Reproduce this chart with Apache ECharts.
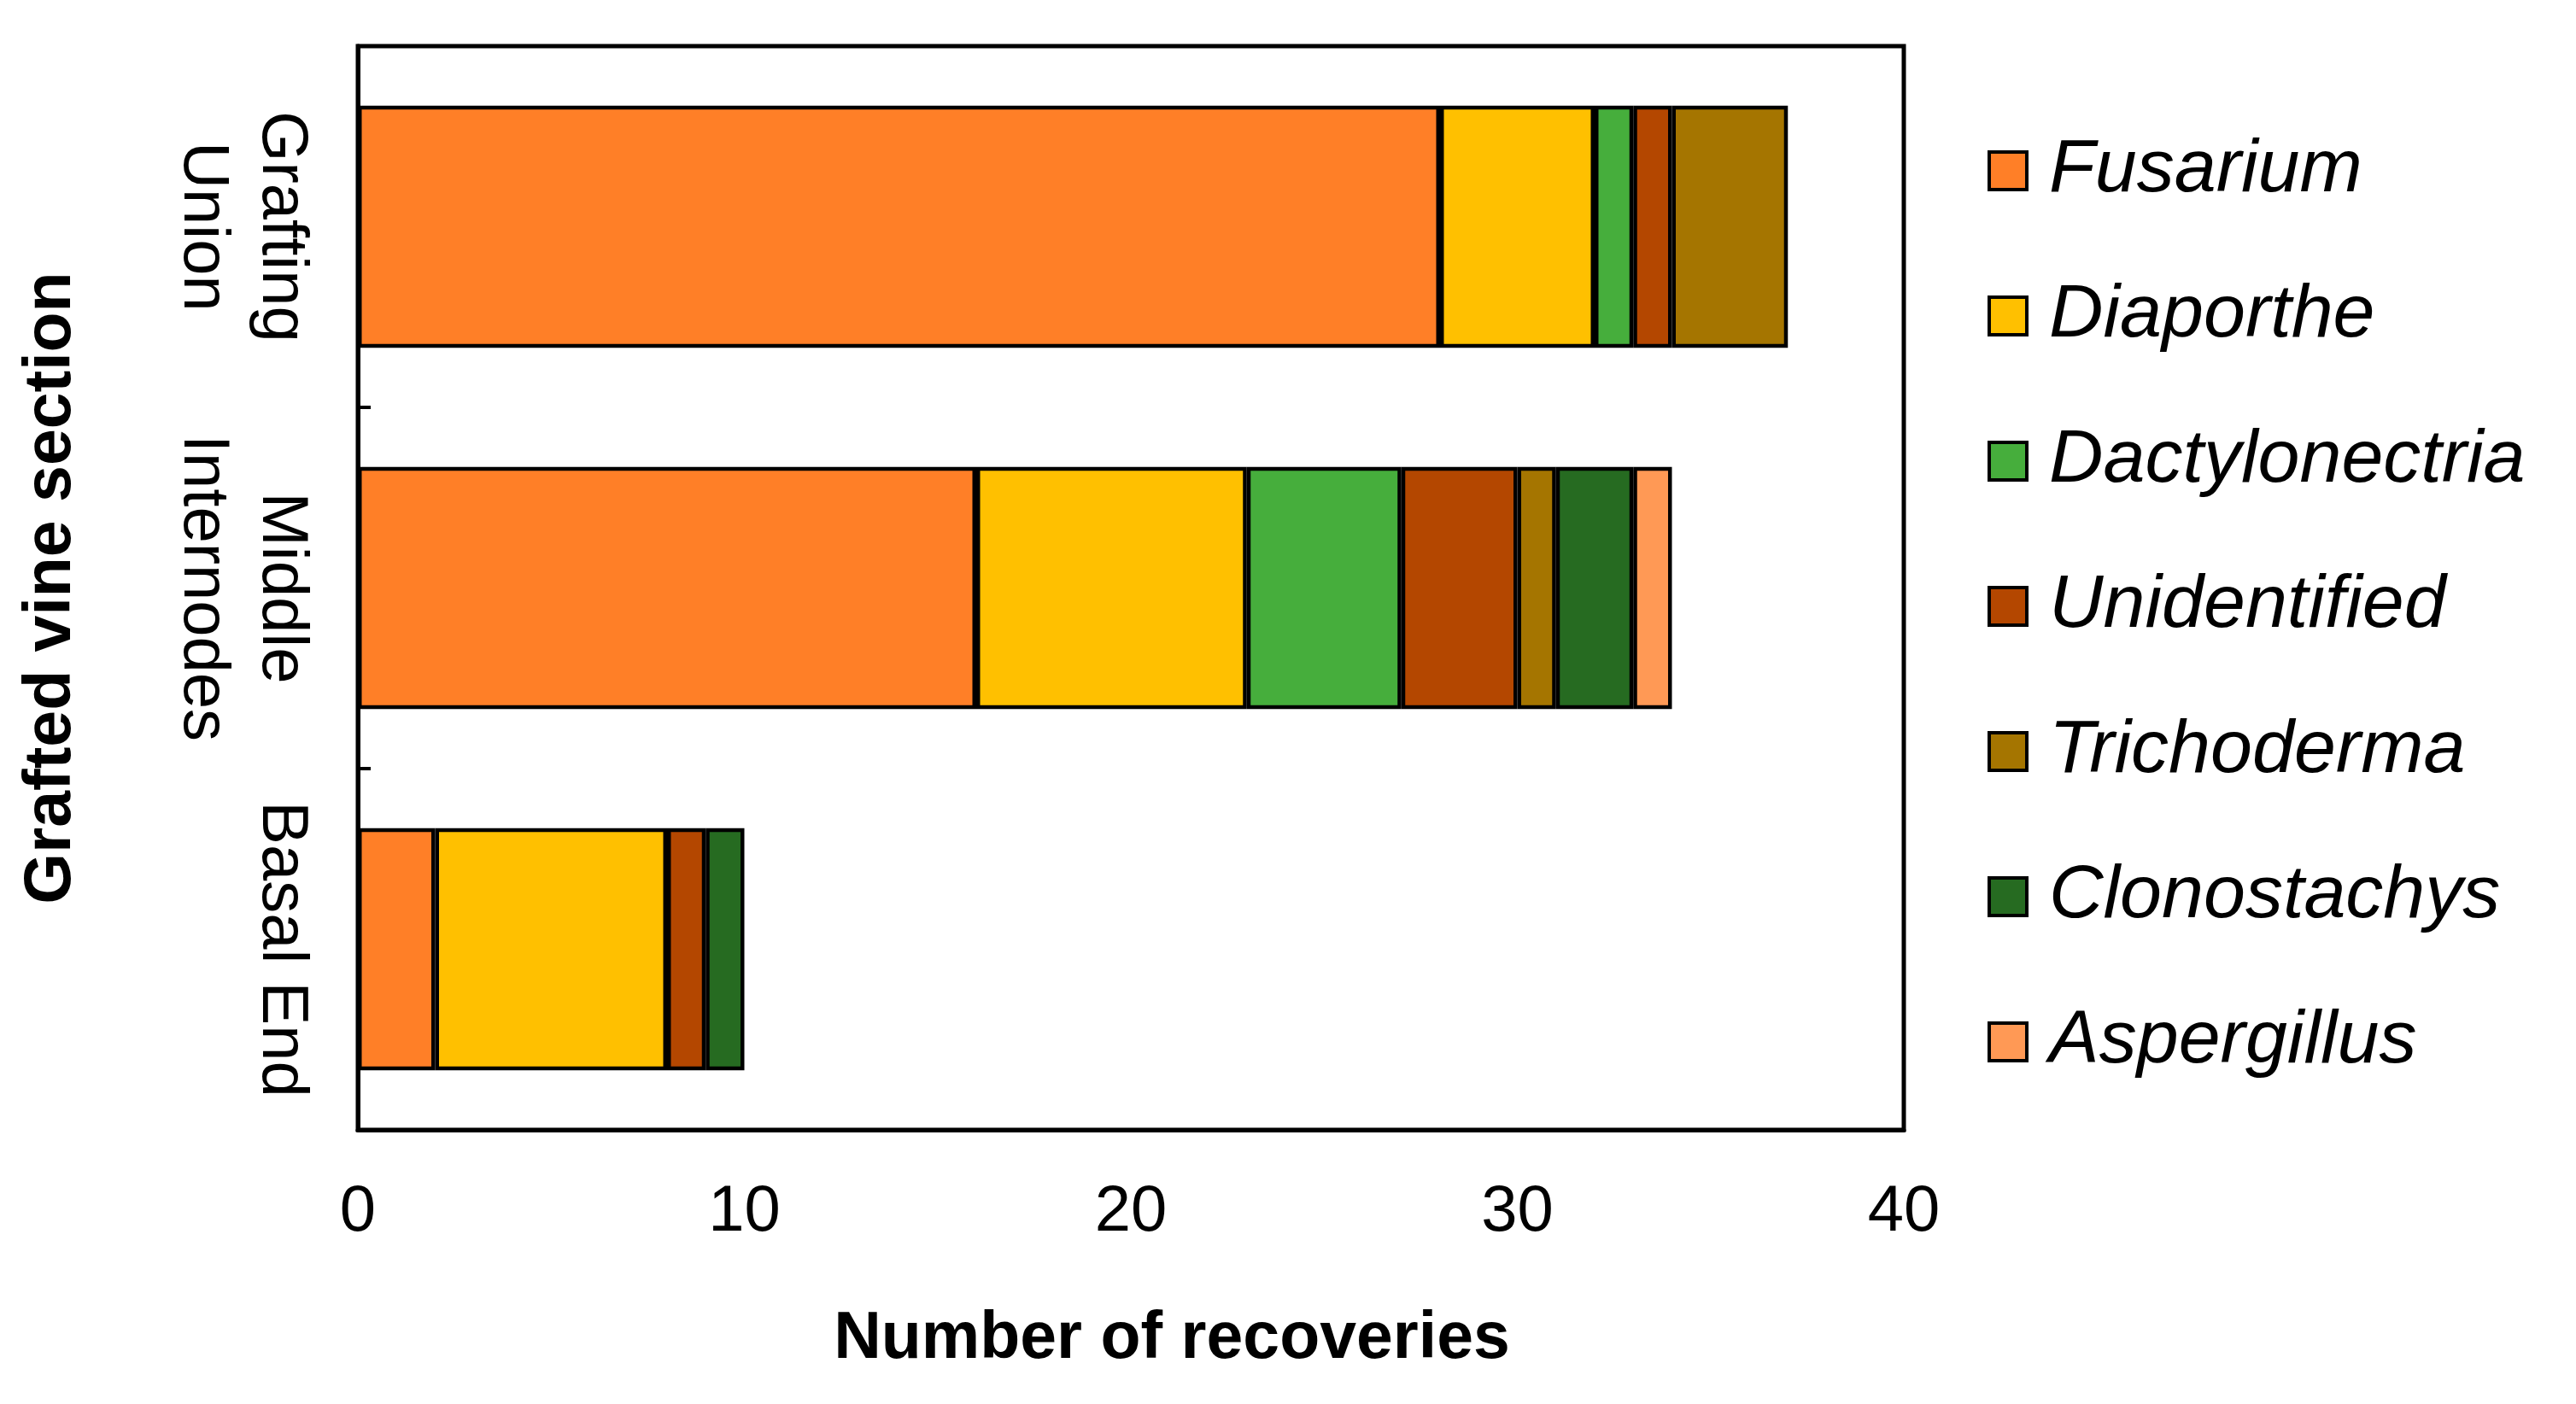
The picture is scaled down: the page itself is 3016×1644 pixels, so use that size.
<!DOCTYPE html>
<html>
<head>
<meta charset="utf-8">
<script src="https://cdn.jsdelivr.net/npm/echarts@6/dist/echarts.min.js"></script>
<style>
html,body{margin:0;padding:0;background:#fff;}
#chart{width:3016px;height:1644px;}
</style>
</head>
<body>
<div id="chart"></div>
<script>
var categories = ['Grafting\nUnion', 'Middle\nInternodes', 'Basal End'];
var seriesNames = ['Fusarium', 'Diaporthe', 'Dactylonectria', 'Unidentified', 'Trichoderma', 'Clonostachys', 'Aspergillus'];
var seriesColors = ['#FF7F27', '#FFC000', '#46AE3C', '#B44700', '#A57500', '#266B21', '#FF9955'];
var fusarium = [28, 16, 2];
var diaporthe = [4, 7, 6];
var dactylonectria = [1, 4, 0];
var unidentified = [1, 3, 1];
var trichoderma = [3, 1, 0];
var clonostachys = [0, 2, 1];
var aspergillus = [0, 1, 0];
var xTicks = [0, 10, 20, 30, 40];

var values = [fusarium, diaporthe, dactylonectria, unidentified, trichoderma, clonostachys, aspergillus];
var FONT = '"Liberation Sans", Arial, sans-serif';

var chart = echarts.init(document.getElementById('chart'));
var series = seriesNames.map(function (name, i) {
  return {
    name: name,
    type: 'bar',
    stack: 'total',
    barCategoryGap: '33%',
    data: values[i].map(function (v) { return v === 0 ? '-' : v; }),
    itemStyle: { color: seriesColors[i], borderColor: '#000', borderWidth: 4.5 }
  };
});

chart.setOption({
  animation: false,
  backgroundColor: '#fff',
  grid: {
    left: 419, right: 787, top: 54, bottom: 321,
    show: true, borderColor: '#000', borderWidth: 5, backgroundColor: 'transparent'
  },
  legend: {
    orient: 'vertical',
    left: 2327,
    top: 156,
    padding: 0,
    itemWidth: 44,
    itemHeight: 44,
    itemGap: 82,
    icon: 'rect',
    itemStyle: { borderColor: '#000', borderWidth: 4 },
    textStyle: { fontFamily: FONT, fontStyle: 'italic', fontSize: 88, lineHeight: 88, color: '#000', padding: [0, 0, 0, 21] },
    data: seriesNames
  },
  xAxis: {
    type: 'value',
    min: xTicks[0],
    max: xTicks[xTicks.length - 1],
    interval: 10,
    name: 'Number of recoveries',
    nameLocation: 'middle',
    nameGap: 207,
    nameTextStyle: { fontFamily: FONT, fontWeight: 'bold', fontSize: 77, color: '#000', padding: [0, 0, 0, 96] },
    axisLine: { show: true, lineStyle: { color: '#000', width: 5 } },
    axisTick: { show: false },
    splitLine: { show: false },
    axisLabel: { fontFamily: FONT, fontSize: 76, color: '#000', margin: 59 }
  },
  yAxis: {
    type: 'category',
    inverse: true,
    data: categories,
    name: 'Grafted vine section',
    nameLocation: 'middle',
    nameGap: 320,
    nameRotate: 90,
    nameTextStyle: { fontFamily: FONT, fontWeight: 'bold', fontSize: 77, color: '#000' },
    axisLine: { show: true, lineStyle: { color: '#000', width: 5 } },
    axisTick: { show: true, inside: true, interval: 0, length: 15, lineStyle: { color: '#000', width: 4 } },
    axisLabel: { fontFamily: FONT, fontSize: 76, lineHeight: 92, color: '#000', rotate: -90, margin: 44, interval: 0, hideOverlap: false }
  },
  series: series
});
</script>
</body>
</html>
